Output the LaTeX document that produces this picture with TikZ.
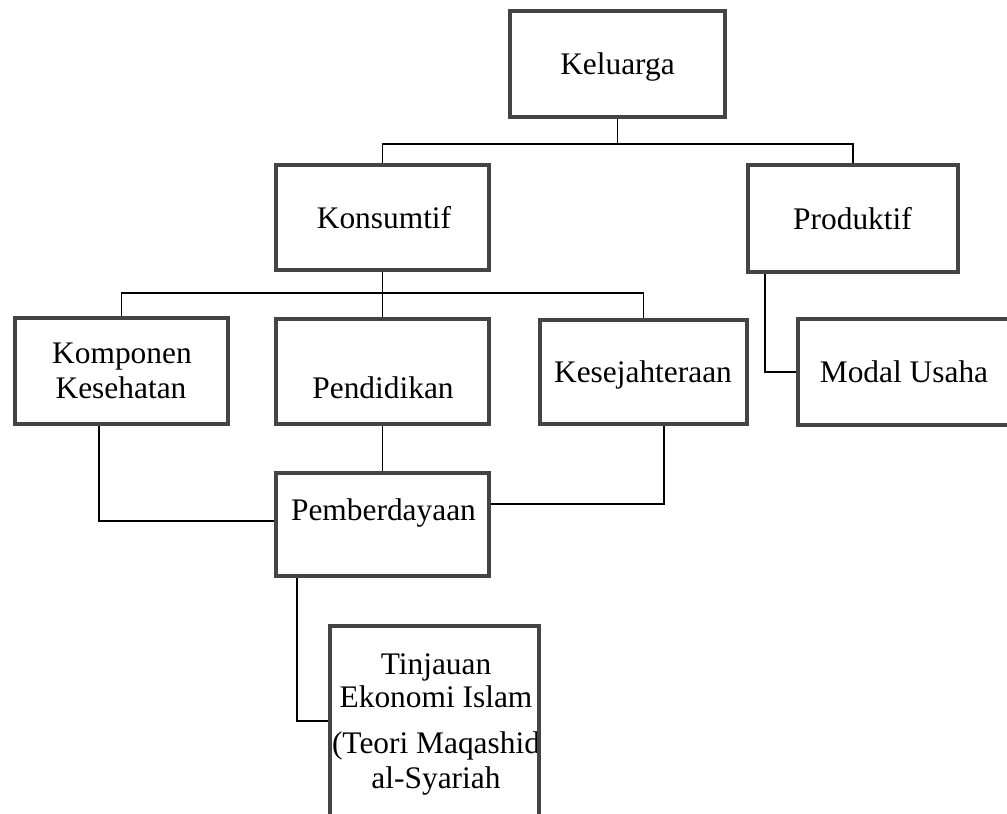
\documentclass[tikz,border=0pt]{standalone}
\usepackage{fontspec}
\setmainfont{Liberation Serif}
\definecolor{boxgray}{HTML}{444444}

\begin{document}
\begin{tikzpicture}[x=0.5pt,y=-0.5pt,
    box/.style={draw=boxgray,line width=2pt,inner sep=0pt,
      minimum width=106.5pt,minimum height=52.5pt},
    txt/.style={anchor=base,inner sep=0pt,font=\fontsize{15.7}{18}\selectfont},
    link/.style={line width=0.75pt}]
  \useasboundingbox (0,0) rectangle (1007,814);

  % texts
  \node[txt] (keluargatxt) at (617.5,74.5) {Keluarga};
  \node[txt] (konsumtiftxt) at (384,228) {Konsumtif};
  \node[txt] (produktiftxt) at (852.5,229) {Produktif};
  \node[txt] (komponentxt) at (122,363) {Komponen};
  \node[txt] (kesehatantxt) at (121,398) {Kesehatan};
  \node[txt] (pendidikantxt) at (383,398) {Pendidikan};
  \node[txt] (sejahteratxt) at (643,382) {Kesejahteraan};
  \node[txt] (modaltxt) at (904,382) {Modal Usaha};
  \node[txt] (berdayatxt) at (383.5,520) {Pemberdayaan};
  \node[txt] (tinjauantxt) at (436,674) {Tinjauan};
  \node[txt] (ekonomitxt) at (436,707) {Ekonomi Islam};
  \node[txt] (teoritxt) at (436,753) {(Teori Maqashid};
  \node[txt] (syariahtxt) at (436,788) {al-Syariah};

  % boxes
  \node[box,minimum width=107.5pt,minimum height=53pt] (keluarga) at (617.5,64) {};
  \node[box] (konsumtif) at (382.5,217.5) {};
  \node[box,minimum width=105pt,minimum height=53.5pt] (produktif) at (853,218.5) {};
  \node[box,minimum height=53pt] (komponen) at (121.5,371) {};
  \node[box] (pendidikan) at (382.5,371.5) {};
  \node[box,minimum width=103.5pt,minimum height=52pt] (kesejahteraan) at (643.5,372) {};
  \node[box,minimum width=107pt,minimum height=53pt] (modal) at (905,372) {};
  \node[box,minimum height=51.5pt] (pemberdayaan) at (382.5,524.5) {};
  \node[box,minimum width=104.5pt,minimum height=117pt] (tinjauan) at (434.5,743) {};

  % connectors
  \draw[link] (keluarga.south) -- ++(0,25) -| (konsumtif.north);
  \draw[link] (keluarga.south) -- ++(0,25) -| (produktif.north);
  \draw[link] (konsumtif.south) -- (pendidikan.north);
  \draw[link] (komponen.north) -- ++(0,-23) -| (kesejahteraan.north);
  \draw[link] (pendidikan.south) -- (pemberdayaan.north);
  \draw[link] ([xshift=-11.25pt]komponen.south) |- ([yshift=1.75pt]pemberdayaan.west);
  \draw[link] ([xshift=10.25pt]kesejahteraan.south) |- ([yshift=10.25pt]pemberdayaan.east);
  \draw[link] ([xshift=-44pt]produktif.south) |- (modal.west);
  \draw[link] ([xshift=-42.75pt]pemberdayaan.south) |- ([yshift=11pt]tinjauan.west);
\end{tikzpicture}
\end{document}
